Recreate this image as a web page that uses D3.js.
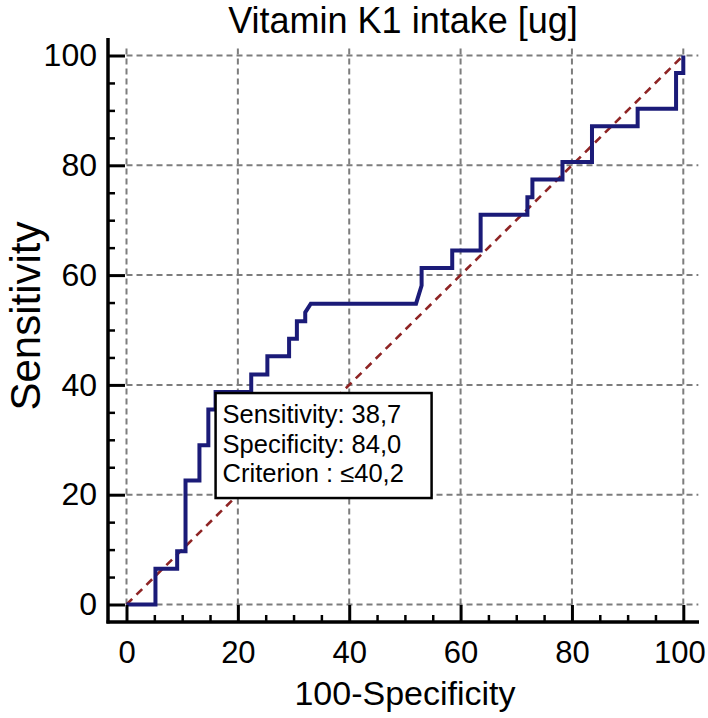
<!DOCTYPE html>
<html>
<head>
<meta charset="utf-8">
<script src="https://cdn.jsdelivr.net/npm/d3@7"></script>
<style>
  html, body { margin: 0; padding: 0; background: #fff; }
  svg { display: block; }
  text { font-family: "Liberation Sans", Arial, sans-serif; fill: #000; }
</style>
</head>
<body>
<svg id="chart" width="708" height="718"></svg>
<script>
// ---- data ----
const title = "Vitamin K1 intake [ug]";
const xLabel = "100-Specificity";
const yLabel = "Sensitivity";
const majorTicks = [0, 20, 40, 60, 80, 100];
const minorTicks = [5, 10, 15, 25, 30, 35, 45, 50, 55, 65, 70, 75, 85, 90, 95];
// ROC curve (100-Specificity, Sensitivity)
const fpr = [0, 5.2, 5.2, 9.1, 9.1, 10.6, 10.6, 13.1, 13.1, 14.7, 14.7, 16.0, 16.0, 22.4, 22.4, 25.3, 25.3, 29.2, 29.2, 30.6,
             30.6, 32.1, 32.1, 33.1, 52.0, 53.0, 53.0, 58.5, 58.5, 63.6, 63.6, 72.0, 72.0, 72.9, 72.9, 78.3, 78.3, 83.6, 83.6, 91.8,
             91.8, 98.7, 98.7, 100, 100];
const tpr = [0, 0, 6.5, 6.5, 9.7, 9.7, 22.6, 22.6, 29.0, 29.0, 35.5, 35.5, 38.7, 38.7, 41.9, 41.9, 45.2, 45.2, 48.4, 48.4,
             51.6, 51.6, 53.2, 54.8, 54.8, 58.1, 61.3, 61.3, 64.5, 64.5, 71.0, 71.0, 74.2, 74.2, 77.4, 77.4, 80.6, 80.6, 87.1, 87.1,
             90.3, 90.3, 96.8, 96.8, 100];
const diagonal = [0, 100];
const criterionPoint = [16.0, 38.7];
const boxLines = ["Sensitivity: 38,7", "Specificity: 84,0", "Criterion : \u226440,2"];

// ---- layout ----
const svg = d3.select("#chart");
const x = d3.scaleLinear().domain([0, 100]).range([126.5, 683.3]);
const y = d3.scaleLinear().domain([0, 100]).range([604.5, 55.5]);
const axisX = 108, axisY = 622;
const plotRight = 699, plotTop = 38;

// grid
const grid = svg.append("g").attr("stroke", "#7d7d7d").attr("stroke-width", 2).attr("stroke-dasharray", "6,4").attr("fill", "none");
grid.selectAll("line.v").data(majorTicks).join("line")
  .attr("x1", d => x(d)).attr("x2", d => x(d))
  .attr("y1", y(0)).attr("y2", y(101.8));
grid.selectAll("line.h").data(majorTicks).join("line")
  .attr("y1", d => y(d)).attr("y2", d => y(d))
  .attr("x1", x(0)).attr("x2", x(102.7));

// diagonal reference line
svg.append("line")
  .attr("x1", x(diagonal[0])).attr("y1", y(diagonal[0]))
  .attr("x2", x(diagonal[1])).attr("y2", y(diagonal[1]))
  .attr("stroke", "#8e2424").attr("stroke-width", 2.6).attr("stroke-dasharray", "8,6");

// ROC curve
const pts = fpr.map((v, i) => [v, tpr[i]]);
svg.append("path")
  .datum(pts)
  .attr("fill", "none")
  .attr("stroke", "#1b1b78")
  .attr("stroke-width", 4)
  .attr("stroke-linejoin", "miter")
  .attr("d", d3.line().x(d => x(d[0])).y(d => y(d[1])));

// axes
const gx = svg.append("g").attr("transform", `translate(0,${axisY})`);
gx.call(d3.axisBottom(x).tickValues(majorTicks).tickSize(-17).tickPadding(19).tickFormat(d3.format("d")));
gx.select(".domain").remove();
gx.selectAll(".tick line").attr("stroke", "#000").attr("stroke-width", 3);
gx.selectAll(".tick text").attr("font-size", 31).attr("font-family", "Liberation Sans, Arial, sans-serif")
  .attr("dx", d => d === 100 ? -4 : 0);
const gxm = svg.append("g").attr("transform", `translate(0,${axisY})`);
gxm.call(d3.axisBottom(x).tickValues(minorTicks).tickSize(-7).tickFormat(""));
gxm.select(".domain").remove();
gxm.selectAll(".tick line").attr("stroke", "#000").attr("stroke-width", 2.5);

const gy = svg.append("g").attr("transform", `translate(${axisX},0)`);
gy.call(d3.axisLeft(y).tickValues(majorTicks).tickSize(-17).tickPadding(11).tickFormat(d3.format("d")));
gy.select(".domain").remove();
gy.selectAll(".tick line").attr("stroke", "#000").attr("stroke-width", 3);
gy.selectAll(".tick text").attr("font-size", 32).attr("font-family", "Liberation Sans, Arial, sans-serif");
const gym = svg.append("g").attr("transform", `translate(${axisX},0)`);
gym.call(d3.axisLeft(y).tickValues(minorTicks).tickSize(-7).tickFormat(""));
gym.select(".domain").remove();
gym.selectAll(".tick line").attr("stroke", "#000").attr("stroke-width", 2.5);

// axis lines
svg.append("line").attr("x1", axisX).attr("x2", axisX).attr("y1", plotTop).attr("y2", axisY + 1.5)
  .attr("stroke", "#000").attr("stroke-width", 3.5);
svg.append("line").attr("x1", axisX - 1.5).attr("x2", plotRight).attr("y1", axisY).attr("y2", axisY)
  .attr("stroke", "#000").attr("stroke-width", 3.5);

// annotation box anchored at criterion point
const bx = x(criterionPoint[0]), by = y(criterionPoint[1]) + 1;
const box = svg.append("g").attr("transform", `translate(${bx},${by})`);
box.append("rect").attr("width", 216).attr("height", 105)
  .attr("fill", "#fff").attr("stroke", "#000").attr("stroke-width", 2.5);
box.selectAll("text").data(boxLines).join("text")
  .attr("x", 7).attr("y", (d, i) => 30 + i * 29.5)
  .attr("font-size", 25.5)
  .text(d => d);

// titles
svg.append("text").attr("x", 403).attr("y", 33).attr("text-anchor", "middle")
  .attr("font-size", 36).text(title);
svg.append("text").attr("x", 405).attr("y", 705).attr("text-anchor", "middle")
  .attr("font-size", 34).text(xLabel);
svg.append("text").attr("transform", "translate(40,316) rotate(-90)").attr("text-anchor", "middle")
  .attr("font-size", 42).text(yLabel);
</script>
</body>
</html>
